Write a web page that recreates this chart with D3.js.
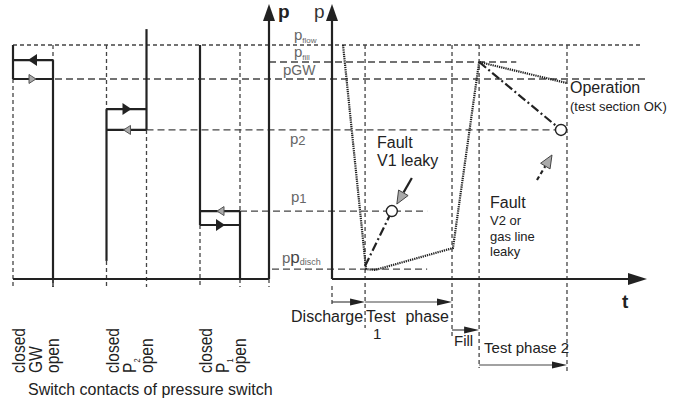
<!DOCTYPE html>
<html><head><meta charset="utf-8">
<script src="https://cdn.jsdelivr.net/npm/d3@7"></script>
<style>body{margin:0;background:#fff}svg{display:block}text{font-family:"Liberation Sans",Arial,Helvetica,sans-serif}</style>
</head><body><svg id="c" width="673" height="402"></svg>
<script>
// ---- data ----
const levelNames = ["flow", "fill", "GW", "2", "1", "disch"];
const levelValues = [85.4, 79.2, 73.0, 54.4, 24.8, 3.6];

const switchNames = ["GW", "P", "P"];
const switchSubs = ["", "2", "1"];
const switchHighState = ["closed", "open", "closed"];
const switchUpper = [79.9, 62.0, 24.8];
const switchLower = [73.0, 54.4, 19.7];
const switchTop = [85.4, 91.2, 85.4];
const switchBottom = [0, 6.6, 0];
const switchUpperArrowDark = [true, true, false];

const phaseStart = [0, 10.5, 38.1, 46.7];
const phaseEnd = [10.5, 38.1, 46.7, 74.6];

const opT = [3.5, 10.8, 13.7, 38.4, 46.7, 74.6];
const opP = [85.4, 3.6, 3.3, 11.3, 79.2, 71.5];
const fault1T = [10.5, 19.0];
const fault1P = [4.7, 24.8];
const okT = [46.7, 72.7];
const okP = [79.2, 54.4];

// ---- scales ----
const y = d3.scaleLinear().domain([0, 100]).range([279, 5]);
const x = d3.scaleLinear().domain([0, 100]).range([332, 647]);
const sx = d3.scaleLinear().domain([0, 2]).range([13, 200]);
const contactGap = 40;
const leftAxisX = 269;

const svg = d3.select("#c");
const DARK = "#222", DASHC = "#444";

function line(x1, y1, x2, y2, o = {}) {
  return svg.append("line").attr("x1", x1).attr("y1", y1).attr("x2", x2).attr("y2", y2)
    .attr("stroke", o.c || DARK).attr("stroke-width", o.w || 2)
    .attr("stroke-dasharray", o.d || null).attr("fill", "none");
}
function tri(x1, y1, x2, y2, len, hw, fill, stroke) {
  const dx = x2 - x1, dy = y2 - y1, L = Math.hypot(dx, dy);
  const ux = dx / L, uy = dy / L;
  const bx = x2 - ux * len, by = y2 - uy * len;
  const pts = [[x2, y2], [bx - uy * hw, by + ux * hw], [bx + uy * hw, by - ux * hw]];
  return svg.append("path").attr("d", "M" + pts.map(p => p.join(",")).join("L") + "Z")
    .attr("fill", fill).attr("stroke", stroke || "none").attr("stroke-width", 1);
}
const shortDash = "4,3", longDash = "7,4";

// ---- horizontal level lines ----
line(sx(0), y(levelValues[0]), x(98), y(levelValues[0]), {c: DASHC, w: 1.3, d: shortDash});
line(leftAxisX, y(levelValues[1]), x(58.5), y(levelValues[1]), {c: DASHC, w: 1.3, d: longDash});
line(sx(0) + contactGap + 2, y(levelValues[2]), x(99.7), y(levelValues[2]), {c: DASHC, w: 1.3, d: longDash});
line(sx(1) + contactGap, y(levelValues[3]), x(okT[1]) - 6, y(levelValues[3]), {c: DASHC, w: 1.3, d: longDash});
line(sx(2) + contactGap, y(levelValues[4]), x(30.2), y(levelValues[4]), {c: DASHC, w: 1.3, d: longDash});
line(272, y(levelValues[5]), x(30.2), y(levelValues[5]), {c: DASHC, w: 1.3, d: longDash});

// ---- phase vertical dashed lines ----
const phaseBottoms = [328, 336, 368, 374];
[phaseStart[1], phaseStart[2], phaseStart[3], phaseEnd[3]].forEach((t, i) => {
  line(x(t), y(levelValues[0]), x(t), phaseBottoms[i], {c: DASHC, w: 1.3, d: shortDash});
});
line(x(0), 286, x(0), 304, {c: DASHC, w: 1.3, d: shortDash});

// ---- switches ----
const topY = y(levelValues[0]);
switchNames.forEach((nm, i) => {
  const cx = sx(i), ox = sx(i) + contactGap;
  const hiX = switchHighState[i] === "closed" ? cx : ox;
  const loX = switchHighState[i] === "closed" ? ox : cx;
  const yu = y(switchUpper[i]), yl = y(switchLower[i]);
  const yt = y(switchTop[i]), yb = y(switchBottom[i]);
  line(hiX, yl, hiX, 287, {c: DASHC, w: 1.3, d: shortDash});
  line(loX, topY, loX, yu, {c: DASHC, w: 1.3, d: shortDash});
  line(loX, yb, loX, 287, {c: DASHC, w: 1.3, d: shortDash});
  line(hiX, yt, hiX, yl, {w: 2.2});
  line(loX, yu, loX, yb, {w: 2.2});
  line(cx, yu, ox, yu, {w: 2.2});
  line(cx, yl, ox, yl, {w: 2.2});
  const mid = (cx + ox) / 2;
  const dirU = hiX < loX ? -1 : 1;
  const darkU = switchUpperArrowDark[i];
  const aU = darkU ? {len: 9, hw: 6} : {len: 7, hw: 4.5};
  tri(mid - dirU * 4, yu, mid + dirU * (aU.len - 4), yu, aU.len, aU.hw, darkU ? DARK : "#aaa", darkU ? null : "#555");
  const aL = !darkU ? {len: 9, hw: 6} : {len: 7, hw: 4.5};
  tri(mid + dirU * 4, yl, mid - dirU * (aL.len - 4), yl, aL.len, aL.hw, !darkU ? DARK : "#aaa", !darkU ? null : "#555");
});

// ---- axes ----
line(sx(0), y(0), leftAxisX, y(0), {w: 2.2});
line(leftAxisX, y(0), leftAxisX, 18, {w: 2.2});
tri(leftAxisX, 30, leftAxisX, 4, 17, 6, DARK);
line(x(0), y(0), x(0), 18, {w: 2.2});
tri(x(0), 30, x(0), 4, 17, 6, DARK);
line(x(0), y(0), 632, y(0), {w: 2.2});
tri(600, y(0), x(100), y(0), 19, 6, DARK);
line(sx(0) + contactGap, y(0), sx(0) + contactGap, 287, {w: 1.3});
line(leftAxisX, y(0), leftAxisX, 287, {c: DASHC, w: 1.3, d: shortDash});

// ---- curves ----
const lg = d3.line().x(d => x(d[0])).y(d => y(d[1]));
svg.append("path").attr("d", lg(d3.zip(opT, opP)))
  .attr("fill", "none").attr("stroke", "#222").attr("stroke-width", 2.2).attr("stroke-dasharray", "1.3,0.9");
svg.append("path").attr("d", lg(d3.zip(fault1T, fault1P)))
  .attr("fill", "none").attr("stroke", DARK).attr("stroke-width", 2.2).attr("stroke-dasharray", "9,3,2,3");
svg.append("path").attr("d", lg(d3.zip(okT, okP)))
  .attr("fill", "none").attr("stroke", DARK).attr("stroke-width", 2.2).attr("stroke-dasharray", "9,3,2,3");
[[fault1T[1], fault1P[1]], [okT[1], okP[1]]].forEach(d => {
  svg.append("circle").attr("cx", x(d[0])).attr("cy", y(d[1])).attr("r", 5.5)
    .attr("fill", "#fff").attr("stroke", DARK).attr("stroke-width", 1.4);
});

// fault annotation arrows
{
  const cx = x(fault1T[1]), cy = y(fault1P[1]);
  const x1 = cx + 20, y1 = cy - 33, x2 = cx + 5, y2 = cy - 7;
  line(x1, y1, x1 + (x2 - x1) * 0.55, y1 + (y2 - y1) * 0.55, {w: 2.2});
  tri(x1, y1, x2, y2, 13, 5.5, "#aaa", "#444");
}
{
  const cx = x(okT[1]), cy = y(okP[1]);
  const x1 = cx - 24, y1 = cy + 50, x2 = cx - 9, y2 = cy + 25;
  line(x1, y1, x1 + (x2 - x1) * 0.55, y1 + (y2 - y1) * 0.55, {w: 2.2, d: "4,3"});
  tri(x1, y1, x2, y2, 13, 5.5, "#aaa", "#444");
}

// ---- phase arrows ----
function hArrow(t1, t2, yy) {
  line(x(t1), yy, x(t2) - 8, yy, {c: "#444", w: 1.2});
  tri(x(t1), yy, x(t2), yy, 15, 3.5, DARK);
}
hArrow(phaseStart[0], phaseEnd[0], 302);
hArrow(phaseStart[1], phaseEnd[1], 302);
hArrow(phaseStart[2], phaseEnd[2], 330);
hArrow(phaseStart[3], phaseEnd[3], 365);

// ---- text ----
function txt(tx, ty, s, o = {}) {
  return svg.append("text").attr("x", tx).attr("y", ty).text(s)
    .attr("font-size", o.fs || 16).attr("fill", o.c || DARK)
    .attr("font-weight", o.b ? "bold" : null).attr("text-anchor", o.a || "start");
}
txt(278, 18, "p", {fs: 19, b: true});
txt(314, 18, "p", {fs: 19, c: "#333"});
txt(622, 308, "t", {fs: 19, b: true});

function pLabel(tx, ty, sub, subSize, dy) {
  const t = svg.append("text").attr("x", tx).attr("y", ty).attr("fill", "#666").attr("font-size", 15);
  t.append("tspan").text("p");
  t.append("tspan").attr("font-size", subSize).attr("dy", dy).text(sub);
  return t;
}
pLabel(294, 40, levelNames[0], 8, 3);
pLabel(294, 57, levelNames[1], 8, 3);
pLabel(283, 75, levelNames[2], 14, 0);
pLabel(290, 144, levelNames[3], 13, 1);
pLabel(291, 202, levelNames[4], 13, 1);
{
  const t = svg.append("text").attr("x", 282).attr("y", 263).attr("fill", "#666").attr("font-size", 15);
  t.append("tspan").text("p");
  t.append("tspan").attr("fill", "#444").attr("font-size", 17).text("p");
  t.append("tspan").attr("font-size", 9).attr("dy", 2).text(levelNames[5]);
}

txt(x(phaseStart[1]) - 2, 322, "Discharge", {a: "end"});
txt(x(phaseStart[1]) + 1, 322, "Test");
txt(x(phaseEnd[1]) - 3, 322, "phase", {a: "end"});
txt(x(phaseStart[1]) + 8, 339, "1", {fs: 15});
txt(x(phaseStart[2]) + 2, 346, "Fill", {fs: 15});
txt(x(phaseStart[3]) + 5, 353, "Test phase 2", {fs: 15});

txt(377, 148, "Fault");
txt(377, 166, "V1 leaky");
txt(570, 93, "Operation");
txt(570, 111, "(test section OK)", {fs: 13});
txt(490, 208, "Fault");
txt(490, 225, "V2 or", {fs: 13});
txt(490, 241, "gas line", {fs: 13});
txt(490, 256, "leaky", {fs: 13});

// rotated switch labels
switchNames.forEach((nm, i) => {
  const cx = sx(i);
  const cols = [["closed", null], [nm, switchSubs[i]], ["open", null]];
  const bx = [cx + 12, cx + 29, cx + 46];
  cols.forEach((c, j) => {
    const t = svg.append("text")
      .attr("transform", `translate(${bx[j]},373) rotate(-90) scale(0.82,1)`)
      .attr("font-size", 19).attr("fill", DARK);
    t.append("tspan").text(c[0]);
    if (c[1]) t.append("tspan").attr("font-size", 9).attr("dy", 4).text(c[1]);
  });
});
txt(28, 395, "Switch contacts of pressure switch", {fs: 16});
</script></body></html>
